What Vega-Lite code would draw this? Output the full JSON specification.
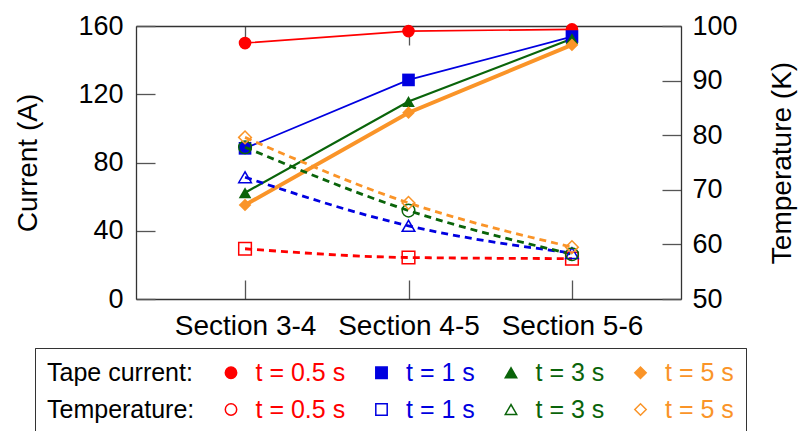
{
  "$schema": "https://vega.github.io/schema/vega-lite/v6.json",
  "width": 545,
  "height": 273,
  "autosize": {"type": "none"},
  "padding": {"left": 136, "top": 26, "right": 119, "bottom": 132},
  "background": "white",
  "config": {
    "font": "Liberation Sans",
    "view": {"stroke": null},
    "axis": {
      "grid": false,
      "domainColor": "#333333",
      "domainWidth": 1.3,
      "tickColor": "#555555",
      "tickWidth": 1.3,
      "tickSize": -19,
      "labelFont": "Liberation Sans",
      "titleFont": "Liberation Sans",
      "labelColor": "#000000",
      "titleColor": "#000000",
      "titleFontWeight": "normal",
      "labelFontSize": 27,
      "titleFontSize": 28
    },
    "legend": {
      "orient": "none",
      "legendX": -101,
      "legendY": 322,
      "direction": "horizontal",
      "columns": 5,
      "padding": 12,
      "strokeColor": "#333333",
      "fillColor": "white",
      "labelFont": "Liberation Sans",
      "labelFontSize": 25,
      "labelLimit": 400,
      "columnPadding": 23.5,
      "rowPadding": 11,
      "symbolSize": 130,
      "symbolStrokeWidth": 1.5,
      "symbolOpacity": 1
    }
  },
  "datasets": {
    "sections": [
      {"section": "Section 3-4", "series": "t = 0.5 s", "current": 150, "temperature": 59.2},
      {"section": "Section 3-4", "series": "t = 1 s", "current": 88.3, "temperature": 72.3},
      {"section": "Section 3-4", "series": "t = 3 s", "current": 62.3, "temperature": 77.8},
      {"section": "Section 3-4", "series": "t = 5 s", "current": 55.1, "temperature": 79.6},
      {"section": "Section 4-5", "series": "t = 0.5 s", "current": 157, "temperature": 57.6},
      {"section": "Section 4-5", "series": "t = 1 s", "current": 128.4, "temperature": 63.4},
      {"section": "Section 4-5", "series": "t = 3 s", "current": 115.7, "temperature": 66.2},
      {"section": "Section 4-5", "series": "t = 5 s", "current": 109.2, "temperature": 67.6},
      {"section": "Section 5-6", "series": "t = 0.5 s", "current": 158, "temperature": 57.4},
      {"section": "Section 5-6", "series": "t = 1 s", "current": 153.8, "temperature": 58.4},
      {"section": "Section 5-6", "series": "t = 3 s", "current": 152.5, "temperature": 58.2},
      {"section": "Section 5-6", "series": "t = 5 s", "current": 148.9, "temperature": 59.5}
    ],
    "legendEntries": [
      {"entry": "Tape current:"},
      {"entry": "Tape current: t = 0.5 s"},
      {"entry": "Tape current: t = 1 s"},
      {"entry": "Tape current: t = 3 s"},
      {"entry": "Tape current: t = 5 s"},
      {"entry": "Temperature:"},
      {"entry": "Temperature: t = 0.5 s"},
      {"entry": "Temperature: t = 1 s"},
      {"entry": "Temperature: t = 3 s"},
      {"entry": "Temperature: t = 5 s"}
    ]
  },
  "layer": [
    {
      "data": {"name": "sections"},
      "layer": [
        {
          "mark": {"type": "line"},
          "encoding": {
            "x": {"field": "section", "type": "ordinal", "scale": {"type": "point", "domain": ["Section 3-4", "Section 4-5", "Section 5-6"], "padding": 0.667}, "axis": {"orient": "bottom", "title": null, "labelAngle": 0, "labelFontSize": 28, "labelPadding": 32, "labelBaseline": "top"}},
            "y": {"field": "current", "type": "quantitative", "scale": {"domain": [0, 160], "nice": false, "zero": false}, "axis": {"orient": "left", "title": "Current (A)", "values": [0, 40, 80, 120, 160], "labelPadding": 32, "titlePadding": 35}},
            "color": {"field": "series", "type": "nominal", "scale": {"domain": ["t = 0.5 s", "t = 1 s", "t = 3 s", "t = 5 s"], "range": ["#ff0000", "#0000e0", "#0a640a", "#fa9428"]}, "legend": null},
            "strokeWidth": {"field": "series", "type": "nominal", "scale": {"type": "ordinal", "domain": ["t = 0.5 s", "t = 1 s", "t = 3 s", "t = 5 s"], "range": [1.6, 1.7, 2.2, 4]}, "legend": null}
          }
        },
        {
          "mark": {"type": "point", "filled": true, "size": 160, "opacity": 1},
          "encoding": {
            "x": {"field": "section", "type": "ordinal", "scale": {"type": "point", "domain": ["Section 3-4", "Section 4-5", "Section 5-6"], "padding": 0.667}, "axis": {"orient": "bottom", "title": null, "labelAngle": 0, "labelFontSize": 28, "labelPadding": 32, "labelBaseline": "top"}},
            "y": {"field": "current", "type": "quantitative", "scale": {"domain": [0, 160], "nice": false, "zero": false}, "axis": {"orient": "left", "title": "Current (A)", "values": [0, 40, 80, 120, 160], "labelPadding": 32, "titlePadding": 35}},
            "color": {"field": "series", "type": "nominal", "scale": {"domain": ["t = 0.5 s", "t = 1 s", "t = 3 s", "t = 5 s"], "range": ["#ff0000", "#0000e0", "#0a640a", "#fa9428"]}, "legend": null},
            "shape": {"field": "series", "type": "nominal", "scale": {"domain": ["t = 0.5 s", "t = 1 s", "t = 3 s", "t = 5 s"], "range": ["circle", "square", "triangle-up", "diamond"]}, "legend": null}
          }
        }
      ]
    },
    {
      "data": {"name": "sections"},
      "layer": [
        {
          "mark": {"type": "line", "strokeDash": [7, 5], "strokeWidth": 2.8, "interpolate": "monotone"},
          "encoding": {
            "x": {"field": "section", "type": "ordinal", "scale": {"type": "point", "domain": ["Section 3-4", "Section 4-5", "Section 5-6"], "padding": 0.667}, "axis": {"orient": "top", "title": null, "labels": false}},
            "y": {"field": "temperature", "type": "quantitative", "scale": {"domain": [50, 100], "nice": false, "zero": false}, "axis": {"orient": "right", "title": "Temperature (K)", "values": [50, 60, 70, 80, 90, 100], "labelPadding": 30, "titlePadding": 31, "titleAngle": 270, "titleBaseline": "top"}},
            "color": {"field": "series", "type": "nominal", "scale": {"domain": ["t = 0.5 s", "t = 1 s", "t = 3 s", "t = 5 s"], "range": ["#ff0000", "#0000e0", "#0a640a", "#fa9428"]}, "legend": null}
          }
        },
        {
          "mark": {"type": "point", "filled": false, "size": 160, "strokeWidth": 1.5, "opacity": 1},
          "encoding": {
            "x": {"field": "section", "type": "ordinal", "scale": {"type": "point", "domain": ["Section 3-4", "Section 4-5", "Section 5-6"], "padding": 0.667}, "axis": {"orient": "top", "title": null, "labels": false}},
            "y": {"field": "temperature", "type": "quantitative", "scale": {"domain": [50, 100], "nice": false, "zero": false}, "axis": {"orient": "right", "title": "Temperature (K)", "values": [50, 60, 70, 80, 90, 100], "labelPadding": 30, "titlePadding": 31, "titleAngle": 270, "titleBaseline": "top"}},
            "color": {"field": "series", "type": "nominal", "scale": {"domain": ["t = 0.5 s", "t = 1 s", "t = 3 s", "t = 5 s"], "range": ["#ff0000", "#0000e0", "#0a640a", "#fa9428"]}, "legend": null},
            "shape": {"field": "series", "type": "nominal", "scale": {"domain": ["t = 0.5 s", "t = 1 s", "t = 3 s", "t = 5 s"], "range": ["square", "triangle-up", "circle", "diamond"]}, "legend": null}
          }
        }
      ]
    },
    {
      "data": {"name": "legendEntries"},
      "mark": {"type": "point", "opacity": 0, "strokeWidth": 1.5},
      "encoding": {
        "shape": {
          "field": "entry",
          "type": "nominal",
          "title": null,
          "scale": {
            "domain": ["Tape current:", "Tape current: t = 0.5 s", "Tape current: t = 1 s", "Tape current: t = 3 s", "Tape current: t = 5 s", "Temperature:", "Temperature: t = 0.5 s", "Temperature: t = 1 s", "Temperature: t = 3 s", "Temperature: t = 5 s"],
            "range": ["circle", "circle", "square", "triangle-up", "diamond", "circle", "circle", "square", "triangle-up", "diamond"]
          },
          "legend": {
            "labelExpr": "split(datum.label, ': ')[1] || datum.label",
            "labelColor": {"expr": "indexof(datum.value, '0.5 s') >= 0 ? '#ff0000' : indexof(datum.value, '= 1 s') >= 0 ? '#0000e0' : indexof(datum.value, '= 3 s') >= 0 ? '#0a640a' : indexof(datum.value, '= 5 s') >= 0 ? '#fa9428' : '#000000'"},
            "labelOffset": {"expr": "indexof(datum.value, ' s') < 0 ? -25 : 12"},
            "symbolFillColor": {"expr": "indexof(datum.value, 'Tape current: ') === 0 ? (indexof(datum.value, '0.5 s') >= 0 ? '#ff0000' : indexof(datum.value, '= 1 s') >= 0 ? '#0000e0' : indexof(datum.value, '= 3 s') >= 0 ? '#0a640a' : '#fa9428') : 'transparent'"},
            "symbolStrokeColor": {"expr": "indexof(datum.value, '0.5 s') >= 0 ? '#ff0000' : indexof(datum.value, '= 1 s') >= 0 ? '#0000e0' : indexof(datum.value, '= 3 s') >= 0 ? '#0a640a' : indexof(datum.value, '= 5 s') >= 0 ? '#fa9428' : 'transparent'"}
          }
        },
        "fill": {
          "field": "entry",
          "type": "nominal",
          "title": null,
          "scale": {
            "domain": ["Tape current:", "Tape current: t = 0.5 s", "Tape current: t = 1 s", "Tape current: t = 3 s", "Tape current: t = 5 s", "Temperature:", "Temperature: t = 0.5 s", "Temperature: t = 1 s", "Temperature: t = 3 s", "Temperature: t = 5 s"],
            "range": ["transparent", "#ff0000", "#0000e0", "#0a640a", "#fa9428", "transparent", "transparent", "transparent", "transparent", "transparent"]
          },
          "legend": {
            "labelExpr": "split(datum.label, ': ')[1] || datum.label",
            "labelColor": {"expr": "indexof(datum.value, '0.5 s') >= 0 ? '#ff0000' : indexof(datum.value, '= 1 s') >= 0 ? '#0000e0' : indexof(datum.value, '= 3 s') >= 0 ? '#0a640a' : indexof(datum.value, '= 5 s') >= 0 ? '#fa9428' : '#000000'"},
            "labelOffset": {"expr": "indexof(datum.value, ' s') < 0 ? -25 : 12"},
            "symbolFillColor": {"expr": "indexof(datum.value, 'Tape current: ') === 0 ? (indexof(datum.value, '0.5 s') >= 0 ? '#ff0000' : indexof(datum.value, '= 1 s') >= 0 ? '#0000e0' : indexof(datum.value, '= 3 s') >= 0 ? '#0a640a' : '#fa9428') : 'transparent'"},
            "symbolStrokeColor": {"expr": "indexof(datum.value, '0.5 s') >= 0 ? '#ff0000' : indexof(datum.value, '= 1 s') >= 0 ? '#0000e0' : indexof(datum.value, '= 3 s') >= 0 ? '#0a640a' : indexof(datum.value, '= 5 s') >= 0 ? '#fa9428' : 'transparent'"}
          }
        },
        "stroke": {
          "field": "entry",
          "type": "nominal",
          "title": null,
          "scale": {
            "domain": ["Tape current:", "Tape current: t = 0.5 s", "Tape current: t = 1 s", "Tape current: t = 3 s", "Tape current: t = 5 s", "Temperature:", "Temperature: t = 0.5 s", "Temperature: t = 1 s", "Temperature: t = 3 s", "Temperature: t = 5 s"],
            "range": ["transparent", "#ff0000", "#0000e0", "#0a640a", "#fa9428", "transparent", "#ff0000", "#0000e0", "#0a640a", "#fa9428"]
          },
          "legend": {
            "labelExpr": "split(datum.label, ': ')[1] || datum.label",
            "labelColor": {"expr": "indexof(datum.value, '0.5 s') >= 0 ? '#ff0000' : indexof(datum.value, '= 1 s') >= 0 ? '#0000e0' : indexof(datum.value, '= 3 s') >= 0 ? '#0a640a' : indexof(datum.value, '= 5 s') >= 0 ? '#fa9428' : '#000000'"},
            "labelOffset": {"expr": "indexof(datum.value, ' s') < 0 ? -25 : 12"},
            "symbolFillColor": {"expr": "indexof(datum.value, 'Tape current: ') === 0 ? (indexof(datum.value, '0.5 s') >= 0 ? '#ff0000' : indexof(datum.value, '= 1 s') >= 0 ? '#0000e0' : indexof(datum.value, '= 3 s') >= 0 ? '#0a640a' : '#fa9428') : 'transparent'"},
            "symbolStrokeColor": {"expr": "indexof(datum.value, '0.5 s') >= 0 ? '#ff0000' : indexof(datum.value, '= 1 s') >= 0 ? '#0000e0' : indexof(datum.value, '= 3 s') >= 0 ? '#0a640a' : indexof(datum.value, '= 5 s') >= 0 ? '#fa9428' : 'transparent'"}
          }
        }
      }
    }
  ],
  "resolve": {
    "scale": {"y": "independent", "shape": "independent"},
    "axis": {"x": "independent"}
  }
}
